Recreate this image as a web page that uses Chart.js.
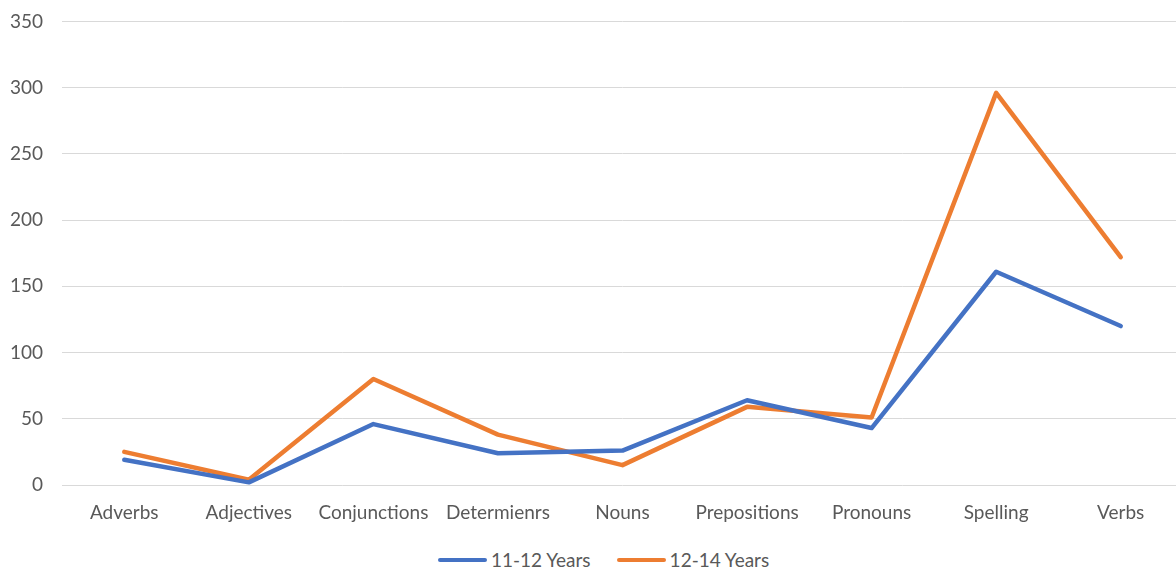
<!DOCTYPE html>
<html lang="en">
<head>
    <meta charset="UTF-8">
    <title>Errors by word class</title>
    <script src="https://cdn.jsdelivr.net/npm/chart.js@4.4.1/dist/chart.umd.min.js"></script>
    <style>
        body {
            margin: 0;
            background: #fff;
            overflow: hidden;
            font-family: Lato, 'Open Sans', Arial, sans-serif;
        }
        .chart-wrapper {
            position: absolute;
            left: 0;
            top: -9px;
            width: 1183px;
            height: 539px;
        }
        .legend {
            position: absolute;
            top: 548px;
            left: 438px;
            display: flex;
            align-items: center;
            gap: 26px;
            font-size: 19px;
            color: #595959;
        }
        .legend-item {
            display: flex;
            align-items: center;
            gap: 4px;
        }
        .legend-line {
            width: 49px;
            height: 4px;
            border-radius: 2px;
        }
    </style>
</head>
<body>
    <div class="chart-wrapper">
        <canvas id="chart"></canvas>
    </div>
    <div class="legend" id="legend"></div>

    <script>
        const categories = ['Adverbs', 'Adjectives', 'Conjunctions', 'Determienrs', 'Nouns',
                            'Prepositions', 'Pronouns', 'Spelling', 'Verbs'];
        const seriesNames = ['11-12 Years', '12-14 Years'];
        const years11to12 = [19, 2, 46, 24, 26, 64, 43, 161, 120];
        const years12to14 = [25, 4, 80, 38, 15, 59, 51, 296, 172];
        const yTicks = [0, 50, 100, 150, 200, 250, 300, 350];

        const colors = ['#4472C4', '#ED7D31'];
        const textColor = '#595959';
        const font = { family: "Lato, 'Open Sans', Arial, sans-serif", size: 19 };

        const datasets = [years11to12, years12to14].map((values, i) => ({
            label: seriesNames[i],
            data: values,
            borderColor: colors[i],
            backgroundColor: colors[i],
            borderWidth: 4.5,
            borderCapStyle: 'round',
            borderJoinStyle: 'round',
            pointRadius: 0,
            tension: 0
        }));

        new Chart(document.getElementById('chart'), {
            type: 'line',
            data: { labels: categories, datasets: datasets },
            options: {
                responsive: true,
                maintainAspectRatio: false,
                animation: false,
                layout: { padding: { top: 12, left: 0, right: 0, bottom: 0 } },
                plugins: {
                    legend: { display: false },
                    tooltip: { enabled: false }
                },
                scales: {
                    x: {
                        offset: true,
                        grid: { display: false },
                        border: { display: false },
                        ticks: { color: textColor, font: font, padding: 8, maxRotation: 0, autoSkip: false },
                        afterFit: (scale) => { scale.height = 45; }
                    },
                    y: {
                        min: 0,
                        max: 350,
                        afterBuildTicks: (scale) => { scale.ticks = yTicks.map(v => ({ value: v })); },
                        grid: { color: '#d9d9d9', lineWidth: 1, drawTicks: false },
                        border: { display: false },
                        ticks: { color: textColor, font: font, padding: 19 },
                        afterFit: (scale) => { scale.width = 62; }
                    }
                }
            }
        });

        // HTML legend under the chart
        const legend = document.getElementById('legend');
        seriesNames.forEach((name, i) => {
            const item = document.createElement('div');
            item.className = 'legend-item';
            const line = document.createElement('div');
            line.className = 'legend-line';
            line.style.backgroundColor = colors[i];
            const text = document.createElement('span');
            text.textContent = name;
            item.appendChild(line);
            item.appendChild(text);
            legend.appendChild(item);
        });
    </script>
</body>
</html>
